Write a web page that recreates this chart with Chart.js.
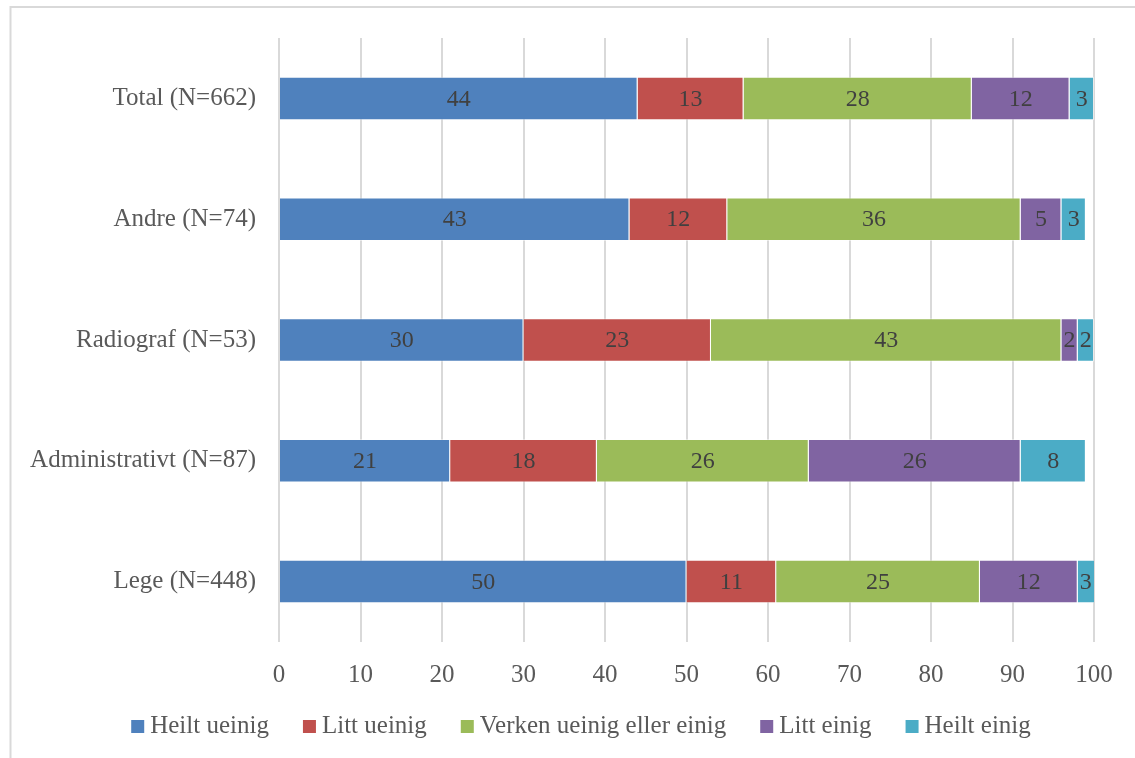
<!DOCTYPE html>
<html>
<head>
<meta charset="utf-8">
<script src="https://cdn.jsdelivr.net/npm/chart.js@4/dist/chart.umd.min.js"></script>
<style>
  html, body { margin: 0; padding: 0; background: #ffffff; }
  canvas { display: block; }
</style>
</head>
<body>
<canvas id="chart" width="1135" height="758"></canvas>
<script>
// Groups (top to bottom) and share of answers per response option, in percent
const categories = ['Total (N=662)', 'Andre (N=74)', 'Radiograf (N=53)', 'Administrativt (N=87)', 'Lege (N=448)'];
const seriesNames = ['Heilt ueinig', 'Litt ueinig', 'Verken ueinig eller einig', 'Litt einig', 'Heilt einig'];
const heiltUeinig = [44, 43, 30, 21, 50];
const littUeinig  = [13, 12, 23, 18, 11];
const verken      = [28, 36, 43, 26, 25];
const littEinig   = [12, 5, 2, 26, 12];
const heiltEinig  = [3, 3, 2, 8, 3];
const xTicks = [0, 10, 20, 30, 40, 50, 60, 70, 80, 90, 100];

const seriesValues = [heiltUeinig, littUeinig, verken, littEinig, heiltEinig];
const seriesColors = ['#4F81BD', '#C0504D', '#9BBB59', '#8064A2', '#4BACC6'];

const FONT = '"Liberation Serif", "DejaVu Serif", serif';
const TEXT_GRAY = '#595959';

// Light frame around the chart
const framePlugin = {
  id: 'frame',
  beforeDraw(chart) {
    const ctx = chart.ctx;
    ctx.save();
    ctx.strokeStyle = '#d9d9d9';
    ctx.lineWidth = 2;
    ctx.beginPath();
    ctx.moveTo(10.5, chart.height + 2);
    ctx.lineTo(10.5, 7);
    ctx.lineTo(chart.width + 2, 7);
    ctx.stroke();
    ctx.restore();
  }
};

// Value written in the middle of the visible part of each bar segment
const segmentLabels = {
  id: 'segmentLabels',
  afterDatasetsDraw(chart) {
    const ctx = chart.ctx;
    const area = chart.chartArea;
    ctx.save();
    ctx.font = '24px ' + FONT;
    ctx.fillStyle = '#404040';
    ctx.textAlign = 'center';
    ctx.textBaseline = 'middle';
    chart.data.datasets.forEach((ds, di) => {
      const meta = chart.getDatasetMeta(di);
      meta.data.forEach((bar, i) => {
        const end = Math.min(bar.x, area.right);
        const start = Math.min(bar.base, area.right);
        ctx.fillText(String(ds.data[i]), (end + start) / 2, bar.y + 1);
      });
    });
    ctx.restore();
  }
};

// Legend row below the axis
const legendRow = {
  id: 'legendRow',
  afterDraw(chart) {
    const ctx = chart.ctx;
    ctx.save();
    ctx.font = '25px ' + FONT;
    ctx.textBaseline = 'middle';
    const box = 13, gapBox = 6, gapItem = 34;
    const items = chart.data.datasets.map(ds => ({
      label: ds.label, color: ds.backgroundColor, w: ctx.measureText(ds.label).width
    }));
    const total = items.reduce((s, it) => s + box + gapBox + it.w, 0) + gapItem * (items.length - 1);
    let x = 581 - total / 2;
    const y = 726;
    items.forEach(it => {
      ctx.fillStyle = it.color;
      ctx.fillRect(x, y - 6, box, box);
      x += box + gapBox;
      ctx.fillStyle = TEXT_GRAY;
      ctx.fillText(it.label, x, y);
      x += it.w + gapItem;
    });
    ctx.restore();
  }
};

new Chart(document.getElementById('chart'), {
  type: 'bar',
  data: {
    labels: categories,
    datasets: seriesNames.map((name, i) => ({
      label: name,
      data: seriesValues[i],
      backgroundColor: seriesColors[i],
      borderColor: 'rgba(255,255,255,0.45)',
      borderWidth: 1,
      barPercentage: 0.36,
      categoryPercentage: 1.0
    }))
  },
  options: {
    indexAxis: 'y',
    responsive: false,
    animation: false,
    devicePixelRatio: 1,
    layout: { padding: { left: 10, top: 37, right: 41, bottom: 0 } },
    plugins: {
      legend: { display: false },
      tooltip: { enabled: false }
    },
    scales: {
      x: {
        stacked: true,
        min: 0,
        max: 100,
        afterBuildTicks(scale) {
          scale.ticks = xTicks.map(v => ({ value: v }));
        },
        afterFit(scale) { scale.height = 116; },
        grid: { color: '#d9d9d9', lineWidth: 2, drawTicks: false },
        border: { display: false },
        ticks: {
          padding: 18,
          color: TEXT_GRAY,
          font: { family: FONT, size: 25 }
        }
      },
      y: {
        stacked: true,
        afterFit(scale) { scale.width = 269; },
        grid: { display: false, drawTicks: false },
        border: { display: false },
        ticks: {
          padding: 23,
          color: TEXT_GRAY,
          font: { family: FONT, size: 25 }
        }
      }
    }
  },
  plugins: [framePlugin, segmentLabels, legendRow]
});
</script>
</body>
</html>
